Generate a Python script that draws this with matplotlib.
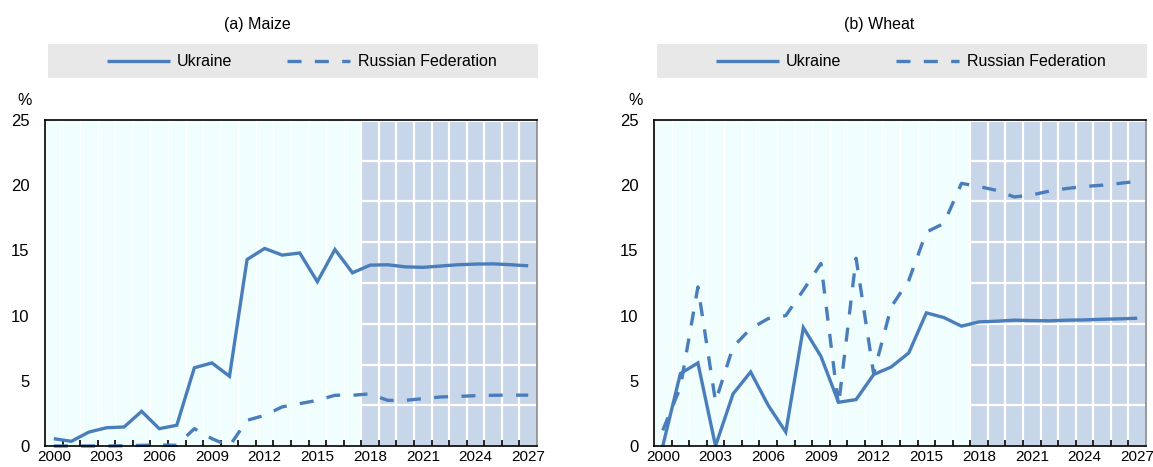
import matplotlib
matplotlib.use("Agg")
import matplotlib.pyplot as plt
from matplotlib.patches import Rectangle
import numpy as np

plt.rcParams['font.family'] = ['Liberation Sans', 'DejaVu Sans']

years = list(range(2000, 2028))
tick_years = [2000, 2003, 2006, 2009, 2012, 2015, 2018, 2021, 2024, 2027]
yticks = [0, 5, 10, 15, 20, 25]

maize_ukraine = [0.56, 0.36, 1.07, 1.40, 1.46, 2.66, 1.33, 1.59, 6.00, 6.37,
                 5.35, 14.30, 15.15, 14.64, 14.80, 12.60, 15.07, 13.28, 13.87, 13.90,
                 13.74, 13.70, 13.80, 13.90, 13.95, 13.97, 13.90, 13.82]
maize_russia = [0.0, 0.0, 0.0, 0.0, 0.02, 0.05, 0.08, 0.05, 1.33, 0.56,
                0.0, 1.97, 2.35, 3.00, 3.25, 3.50, 3.89, 3.89, 4.00, 3.50,
                3.50, 3.63, 3.76, 3.80, 3.86, 3.89, 3.90, 3.90]
wheat_ukraine = [0.0, 5.55, 6.37, 0.0, 4.00, 5.68, 3.12, 1.07, 9.08, 6.88,
                 3.35, 3.56, 5.48, 6.06, 7.14, 10.21, 9.85, 9.19, 9.52, 9.57,
                 9.65, 9.62, 9.60, 9.65, 9.67, 9.72, 9.75, 9.80]
wheat_russia = [1.20, 4.50, 12.20, 3.40, 7.60, 9.00, 9.77, 10.00, 11.95, 14.00,
                3.10, 14.40, 5.55, 10.67, 12.70, 16.40, 17.07, 20.14, 19.90, 19.60,
                19.10, 19.25, 19.55, 19.75, 19.90, 20.00, 20.14, 20.30]

titles = ["(a) Maize", "(b) Wheat"]
series_labels = ["Ukraine", "Russian Federation"]
projection_start = 2018
ylabel = "%"

W, H = 1153, 467
fig = plt.figure(figsize=(W / 100, H / 100), dpi=100)

def rect(x0, y0, x1, y1):
    return [x0 / W, 1 - y1 / H, (x1 - x0) / W, (y1 - y0) / H]

LINE_C = '#4A7EBB'
SHADE_C = '#C8D6E9'
AZURE_C = '#F0FEFE'
FS = 11.5
TFS = 11
DASH = (0, (4.2, 4.0))

panels = [
    dict(ax=(45, 120, 537, 446), leg=(48, 44, 538, 78), title_x=257, pct_x=25,
         data=(maize_ukraine, maize_russia), title=titles[0]),
    dict(ax=(654, 120, 1146, 446), leg=(657, 44, 1147, 78), title_x=879, pct_x=636,
         data=(wheat_ukraine, wheat_russia), title=titles[1]),
]

x = np.arange(len(years))
n = len(years)
ps = years.index(projection_start) - 0.5

for p in panels:
    ax = fig.add_axes(rect(*p['ax']))
    ax.set_xlim(-0.5, n - 0.5)
    ax.set_ylim(0, 25)
    ax.axvspan(-0.5, ps, color=AZURE_C, lw=0, zorder=0)
    for b in np.arange(0.5, ps, 1.0):
        ax.axvline(b, color='white', lw=0.8, zorder=0.5)
    ax.add_patch(Rectangle((ps, 0), n - 0.5 - ps, 24.85, facecolor=SHADE_C,
                           edgecolor='none', zorder=0.6))
    for b in np.arange(ps, n - 0.5, 1.0):
        ax.axvline(b, color='white', lw=1.6, zorder=0.7)
    for k in range(1, 8):
        ax.plot([ps, n - 0.5], [k * 25 / 8] * 2, color='white', lw=1.6, zorder=0.7)

    ukr, rus = p['data']
    ax.plot(x, ukr, color=LINE_C, lw=2.4, zorder=3, clip_on=False,
            solid_capstyle='butt', solid_joinstyle='miter')
    ax.plot(x, rus, color=LINE_C, lw=2.4, ls=DASH, zorder=3, clip_on=False,
            dash_capstyle='butt')

    ax.set_xticks([years.index(t) for t in tick_years])
    ax.set_xticklabels([str(t) for t in tick_years], fontsize=TFS)
    ax.set_xticks(np.arange(0.5, n - 1, 1.0), minor=True)
    ax.tick_params(axis='x', which='major', length=0, pad=3)
    ax.tick_params(axis='x', which='minor', direction='in', length=4, width=1.2, color='black')
    ax.set_yticks(yticks)
    ax.set_yticklabels([str(v) for v in yticks], fontsize=12)
    ax.tick_params(axis='y', length=0, pad=11)
    for s in ['left', 'bottom', 'top']:
        ax.spines[s].set_color('black')
        ax.spines[s].set_linewidth(1.2)
    ax.spines['right'].set_color('#8c8c8c')
    ax.spines['right'].set_linewidth(1.2)
    for s in ax.spines.values():
        s.set_zorder(4)

    lx0, ly0, lx1, ly1 = p['leg']
    lax = fig.add_axes(rect(lx0, ly0, lx1, ly1))
    lax.set_facecolor('#E8E8E8')
    for s in lax.spines.values():
        s.set_visible(False)
    lax.set_xticks([]); lax.set_yticks([])
    lax.set_xlim(lx0, lx1); lax.set_ylim(ly1, ly0)
    ymid = 61
    lax.plot([lx0 + 59, lx0 + 122], [ymid, ymid], color=LINE_C, lw=2.4,
             solid_capstyle='butt')
    lax.text(lx0 + 129, ymid, series_labels[0], fontsize=FS, va='center', ha='left')
    lax.plot([lx0 + 239, lx0 + 302], [ymid, ymid], color=LINE_C, lw=2.4, ls=DASH,
             dash_capstyle='butt')
    lax.text(lx0 + 310, ymid, series_labels[1], fontsize=FS, va='center', ha='left')

    fig.text(p['title_x'] / W, 1 - 24 / H, p['title'], fontsize=FS, ha='center', va='center')
    fig.text(p['pct_x'] / W, 1 - 100 / H, ylabel, fontsize=FS, ha='center', va='center')

fig.savefig('out.png', dpi=100)
